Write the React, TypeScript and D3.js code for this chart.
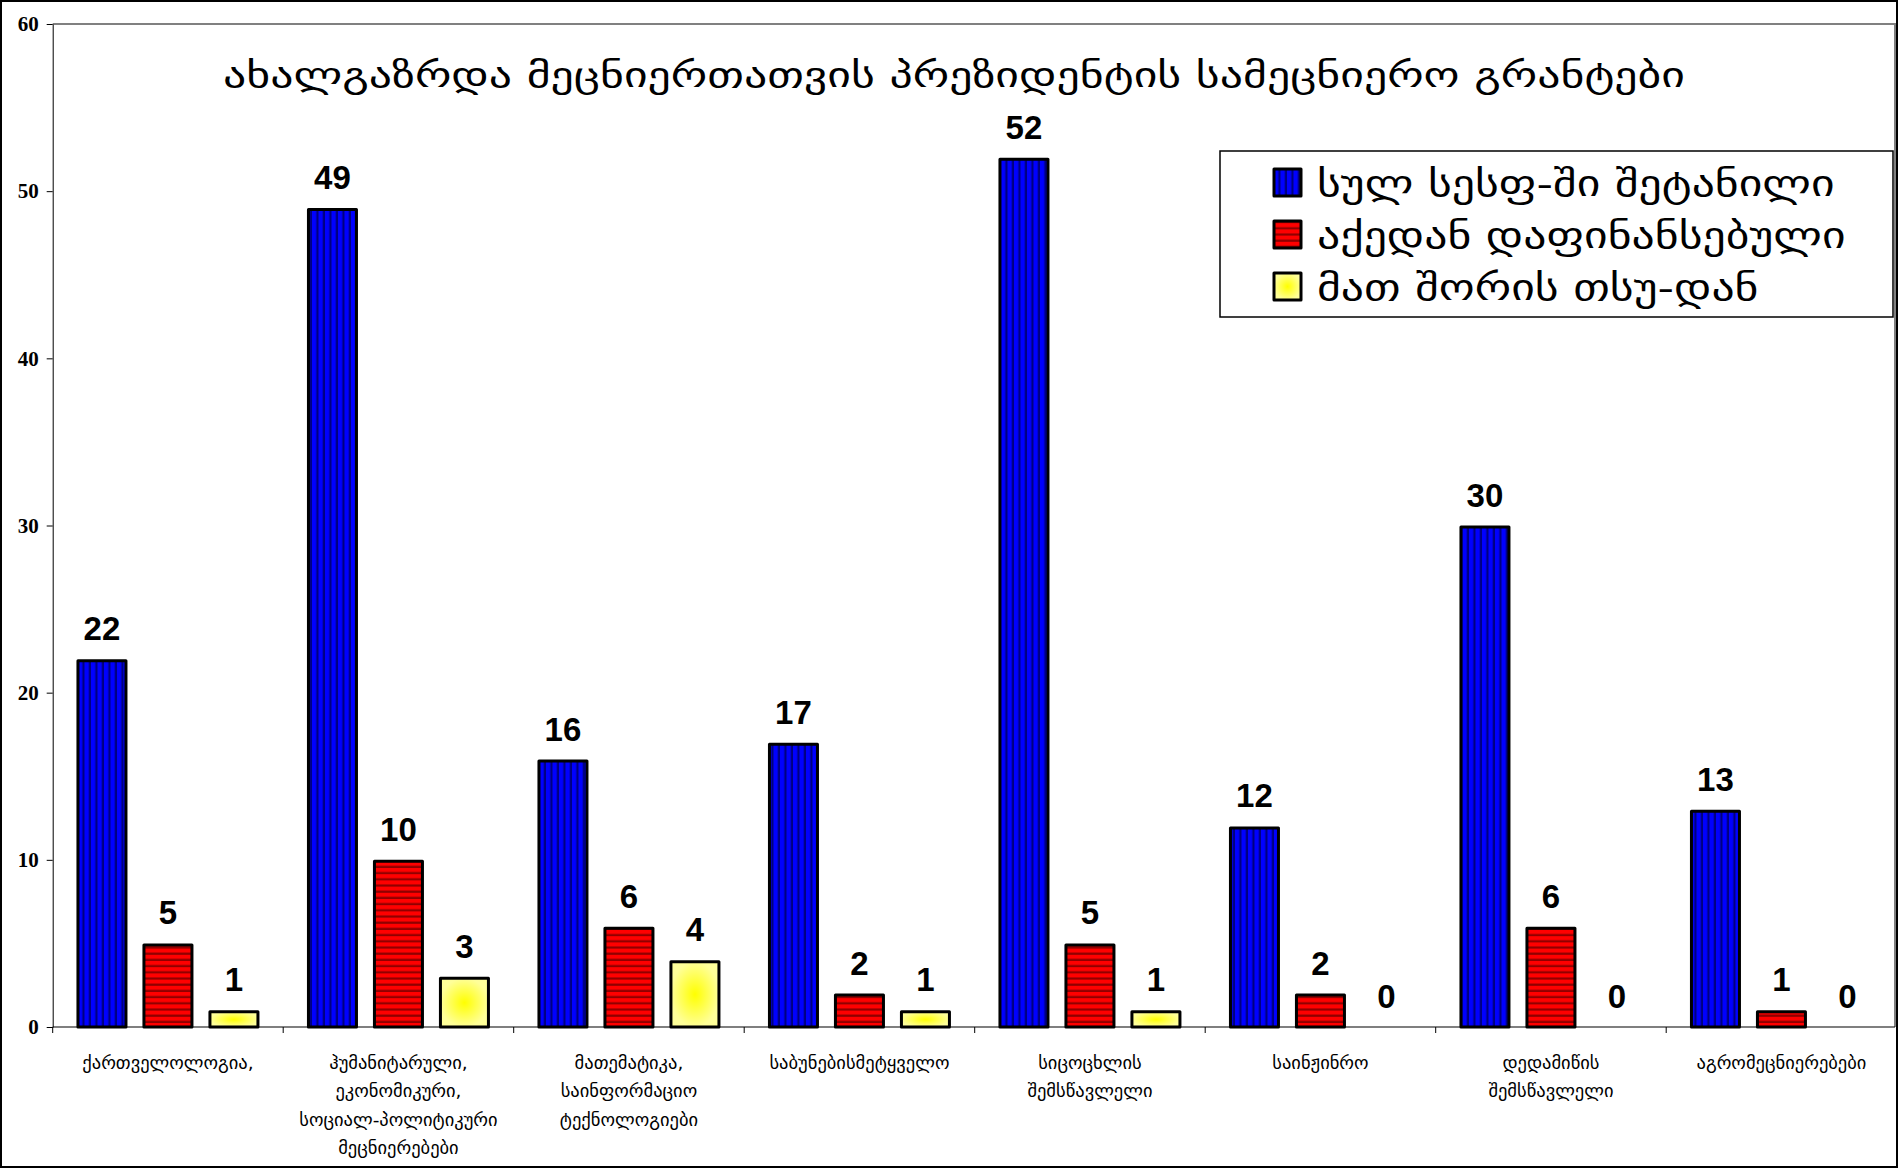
import React, { useEffect, useRef } from "react";
import * as d3 from "d3";

const W = 1898;
const H = 1168;

const title = "ახალგაზრდა მეცნიერთათვის პრეზიდენტის სამეცნიერო გრანტები";

const categories: string[][] = [
  ["ქართველოლოგია,"],
  ["ჰუმანიტარული,", "ეკონომიკური,", "სოციალ-პოლიტიკური", "მეცნიერებები"],
  ["მათემატიკა,", "საინფორმაციო", "ტექნოლოგიები"],
  ["საბუნებისმეტყველო"],
  ["სიცოცხლის", "შემსწავლელი"],
  ["საინჟინრო"],
  ["დედამიწის", "შემსწავლელი"],
  ["აგრომეცნიერებები"],
];

const seriesNames = ["სულ სესფ-ში შეტანილი", "აქედან დაფინანსებული", "მათ შორის თსუ-დან"];
const submitted = [22, 49, 16, 17, 52, 12, 30, 13];
const funded = [5, 10, 6, 2, 5, 2, 6, 1];
const fromTSU = [1, 3, 4, 1, 1, 0, 0, 0];
const yTicks = [0, 10, 20, 30, 40, 50, 60];

const fills = ["url(#pBlue)", "url(#pRed)", "url(#gYellow)"];
const GEO = "'DejaVu Sans', 'DejaVu Serif', sans-serif";

export default function App() {
  const ref = useRef<SVGSVGElement>(null);

  useEffect(() => {
    document.body.style.margin = "0";
    const svg = d3.select(ref.current);
    svg.selectAll("*").remove();

    const defs = svg.append("defs");
    const pb = defs.append("pattern").attr("id", "pBlue").attr("patternUnits", "userSpaceOnUse")
      .attr("width", 6.5).attr("height", 10);
    pb.append("rect").attr("width", 6.5).attr("height", 10).attr("fill", "#0000ff");
    pb.append("rect").attr("x", 4.3).attr("width", 2.2).attr("height", 10).attr("fill", "#000080");
    const pr = defs.append("pattern").attr("id", "pRed").attr("patternUnits", "userSpaceOnUse")
      .attr("width", 10).attr("height", 6.2);
    pr.append("rect").attr("width", 10).attr("height", 6.2).attr("fill", "#ff0000");
    pr.append("rect").attr("y", 4).attr("width", 10).attr("height", 2.2).attr("fill", "#900000");
    const gy = defs.append("radialGradient").attr("id", "gYellow");
    gy.append("stop").attr("offset", "0%").attr("stop-color", "#ffff00");
    gy.append("stop").attr("offset", "100%").attr("stop-color", "#ffff99");

    const left = 52.7, right = 1895, top = 24, bottom = 1027;
    const x0 = d3.scaleBand<number>().domain(d3.range(categories.length)).range([left, left + 8 * 230.5]);
    const x1 = d3.scaleBand<number>().domain([0, 1, 2]).range([0, x0.bandwidth()])
      .paddingInner(0.227).paddingOuter(0.36);
    const y = d3.scaleLinear().domain([0, 60]).range([bottom, top]);

    // outer frame
    svg.append("rect").attr("x", 1).attr("y", 1).attr("width", W - 2).attr("height", H - 2)
      .attr("fill", "white").attr("stroke", "#000").attr("stroke-width", 2);

    // plot area border (gray top & right)
    svg.append("path").attr("d", `M${left},${top}H${right}V${bottom}`)
      .attr("fill", "none").attr("stroke", "#808080").attr("stroke-width", 2);

    // title
    svg.append("text").attr("x", 954).attr("y", 87).attr("text-anchor", "middle")
      .attr("font-family", GEO).attr("font-size", 35)
      .attr("textLength", 1462).attr("lengthAdjust", "spacingAndGlyphs")
      .text(title);

    const seriesData = [submitted, funded, fromTSU];
    const g = svg.append("g");
    seriesData.forEach((vals, s) => {
      vals.forEach((v, i) => {
        const bx = x0(i)! + x1(s)!;
        const bw = x1.bandwidth();
        if (v > 0) {
          g.append("rect").attr("x", bx + 1.5).attr("y", y(v) + 1.5)
            .attr("width", bw - 3).attr("height", Math.max(0, y(0) - y(v) - 1.5))
            .attr("fill", fills[s]).attr("stroke", "#000").attr("stroke-width", 3)
            .attr("stroke-linejoin", "round");
        }
        g.append("text").attr("x", bx + bw / 2).attr("y", y(v) - 19)
          .attr("text-anchor", "middle").attr("font-family", "'Liberation Sans', Arial, sans-serif")
          .attr("font-weight", "bold").attr("font-size", 33).text(String(v));
      });
    });

    // y axis
    const ya = svg.append("g").attr("transform", `translate(${left},0)`)
      .call(d3.axisLeft(y).tickValues(yTicks).tickSize(6).tickSizeOuter(0));
    ya.select(".domain").attr("stroke", "#000");
    ya.selectAll("text").attr("font-family", "'Liberation Serif', 'Times New Roman', serif")
      .attr("font-weight", "bold").attr("font-size", 21).attr("fill", "#000").attr("dx", -5);

    // x axis
    const xa = svg.append("g").attr("transform", `translate(0,${bottom})`);
    xa.append("line").attr("x1", left).attr("x2", right).attr("stroke", "#000").attr("stroke-width", 1.2);
    d3.range(categories.length + 1).forEach((i) => {
      const xx = i < categories.length ? x0(i)! : x0(categories.length - 1)! + x0.bandwidth();
      xa.append("line").attr("x1", xx).attr("x2", xx).attr("y1", 0).attr("y2", 6).attr("stroke", "#000");
    });
    categories.forEach((lines, i) => {
      const cx = x0(i)! + x0.bandwidth() / 2;
      lines.forEach((ln, k) => {
        xa.append("text").attr("x", cx).attr("y", 42 + k * 28.3).attr("text-anchor", "middle")
          .attr("font-family", GEO).attr("font-size", 18.5).text(ln);
      });
    });

    // legend
    const lg = svg.append("g");
    lg.append("rect").attr("x", 1220).attr("y", 151).attr("width", 673).attr("height", 166)
      .attr("fill", "white").attr("stroke", "#000").attr("stroke-width", 1.5);
    seriesNames.forEach((name, s) => {
      const yy = 183 + s * 52;
      lg.append("rect").attr("x", 1274).attr("y", yy - 14).attr("width", 27).attr("height", 27)
        .attr("fill", fills[s]).attr("stroke", "#000").attr("stroke-width", 3).attr("stroke-linejoin", "round");
      lg.append("text").attr("transform", `translate(1317,${yy + 13}) scale(1.27,1)`)
        .attr("font-family", GEO).attr("font-size", 36).text(name);
    });
  }, []);

  return (
    <svg ref={ref} width={W} height={H} style={{ position: "absolute", left: 0, top: 0 }} />
  );
}
